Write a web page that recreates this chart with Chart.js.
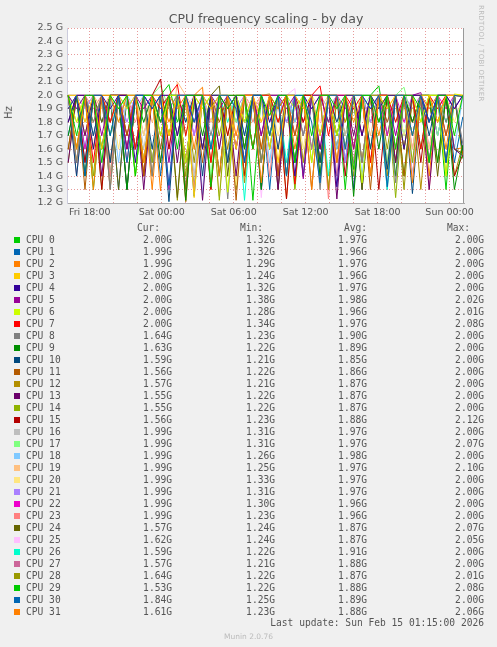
<!DOCTYPE html>
<html>
<head>
<meta charset="UTF-8">
<title>CPU frequency scaling - by day</title>
<script src="https://cdn.jsdelivr.net/npm/chart.js"></script>
<style>
  body { margin: 0; background: #f0f0f0; width: 497px; height: 647px; position: relative; overflow: hidden; font-family: "DejaVu Sans", sans-serif; }
  #chartBox { position: absolute; left: 0; top: 0; width: 497px; height: 225px; }
  #title { position: absolute; top: 11px; left: 0; width: 532px; text-align: center; font-size: 12.5px; color: #555; }
  #hz { position: absolute; left: 2px; top: 107px; font-size: 10px; color: #555; transform: rotate(-90deg); }
  #rrd { position: absolute; left: 477px; top: 5px; font-size: 7px; color: #bbb; writing-mode: vertical-rl; letter-spacing: 0.3px; }
  #legend { position: absolute; left: 0; top: 222px; width: 497px; font-family: "DejaVu Sans Mono", monospace; font-size: 9.6px; color: #555; }
  .row { position: relative; height: 12px; }
  .row span { position: absolute; top: 0; white-space: pre; }
  .sw { width: 6px; height: 6px; top: 3px !important; left: 14px; }
  #foot { position: absolute; top: 617px; right: 13px; font-family: "DejaVu Sans Mono", monospace; font-size: 9.6px; color: #555; }
  #munin { position: absolute; top: 632px; left: 0; width: 497px; text-align: center; font-size: 7.5px; color: #bbb; }
</style>
</head>
<body>
<div id="chartBox"><canvas id="cpuChart"></canvas></div>
<div id="title">CPU frequency scaling - by day</div>
<div id="hz">Hz</div>
<div id="rrd">RRDTOOL / TOBI OETIKER</div>
<div id="legend"></div>
<div id="foot">Last update: Sun Feb 15 01:15:00 2026</div>
<div id="munin">Munin 2.0.76</div>
<script>
// hours since Fri 00:00
const times = [16.2,16.9,17.6,18.3,19.0,19.7,20.4,21.1,21.8,22.5,23.2,23.9,24.6,25.3,26.0,26.7,27.4,28.1,28.8,29.5,30.2,30.9,31.6,32.3,33.0,33.7,34.4,35.1,35.8,36.5,37.2,37.9,38.6,39.3,40.0,40.7,41.4,42.1,42.8,43.5,44.2,44.9,45.6,46.3,47.0,47.7,48.4,49.1];
const tickLabels = { 18: 'Fri 18:00', 24: 'Sat 00:00', 30: 'Sat 06:00', 36: 'Sat 12:00', 42: 'Sat 18:00', 48: 'Sun 00:00' };
const yTicks = [1.2,1.3,1.4,1.5,1.6,1.7,1.8,1.9,2.0,2.1,2.2,2.3,2.4,2.5];

const names = ['CPU 0','CPU 1','CPU 2','CPU 3','CPU 4','CPU 5','CPU 6','CPU 7','CPU 8','CPU 9','CPU 10','CPU 11','CPU 12','CPU 13','CPU 14','CPU 15','CPU 16','CPU 17','CPU 18','CPU 19','CPU 20','CPU 21','CPU 22','CPU 23','CPU 24','CPU 25','CPU 26','CPU 27','CPU 28','CPU 29','CPU 30','CPU 31'];
const colors = ['#00cc00','#0066b3','#ff8000','#ffcc00','#330099','#990099','#ccff00','#ff0000','#808080','#008f00','#00487d','#b35a00','#b38f00','#6b006b','#8fb300','#b30000','#bebebe','#80ff80','#80c9ff','#ffc080','#ffe680','#aa80ff','#ee00cc','#ff8080','#666600','#ffbfff','#00ffcc','#cc6699','#999900','#00cc00','#0066b3','#ff8000'];
const cur = ['2.00G','1.99G','1.99G','2.00G','2.00G','2.00G','2.00G','2.00G','1.64G','1.63G','1.59G','1.56G','1.57G','1.55G','1.55G','1.56G','1.99G','1.99G','1.99G','1.99G','1.99G','1.99G','1.99G','1.99G','1.57G','1.62G','1.59G','1.57G','1.64G','1.53G','1.84G','1.61G'];
const mins = ['1.32G','1.32G','1.29G','1.24G','1.32G','1.38G','1.28G','1.34G','1.23G','1.22G','1.21G','1.22G','1.21G','1.22G','1.22G','1.23G','1.31G','1.31G','1.26G','1.25G','1.33G','1.31G','1.30G','1.23G','1.24G','1.24G','1.22G','1.21G','1.22G','1.22G','1.25G','1.23G'];
const avgs = ['1.97G','1.96G','1.97G','1.96G','1.97G','1.98G','1.96G','1.97G','1.90G','1.89G','1.85G','1.86G','1.87G','1.87G','1.87G','1.88G','1.97G','1.97G','1.98G','1.97G','1.97G','1.97G','1.96G','1.96G','1.87G','1.87G','1.91G','1.88G','1.87G','1.88G','1.89G','1.88G'];
const maxs = ['2.00G','2.00G','2.00G','2.00G','2.00G','2.02G','2.01G','2.08G','2.00G','2.00G','2.00G','2.00G','2.00G','2.00G','2.00G','2.12G','2.00G','2.07G','2.00G','2.10G','2.00G','2.00G','2.00G','2.00G','2.07G','2.05G','2.00G','2.00G','2.01G','2.08G','2.00G','2.06G'];

// values in GHz
const cpu0  = [2,1.7,2,2,1.5,2,1.9,2,1.4,2,2,1.8,2,1.6,2,2,2,1.32,2,1.9,2,2,1.6,2,1.85,2,2,1.5,2,1.7,2,2,1.9,2,1.45,2,2,1.8,2,1.6,2,2,1.9,1.5,2,2,1.7,2];
const cpu1  = [1.9,2,1.4,2,2,1.7,2,1.5,2,2,1.9,2,1.33,2,2,1.8,2,1.6,2,2,1.9,1.5,2,2,1.7,2,1.4,2,2,1.8,1.35,2,2,1.6,2,2,1.9,2,1.32,2,2,1.7,2,1.8,2,1.5,2,1.99];
const cpu2  = [2,1.6,2,1.3,2,2,1.8,2,2,1.5,2,1.29,2,1.9,2,1.6,2,2,1.4,2,1.7,2,2,1.35,2,1.9,2,1.6,2,1.3,2,2,1.5,2,1.8,2,1.4,2,2,1.6,2,1.35,2,1.9,2,1.6,2,1.99];
const cpu3  = [2,2,1.8,2,1.6,2,2,1.9,2,1.5,2,2,1.7,2,2,1.24,2,1.9,2,2,1.6,2,2,1.8,2,1.5,2,2,1.9,2,1.7,2,2,1.6,2,2,1.4,2,1.9,2,2,1.7,2,2,1.8,2,2,2];
const cpu4  = [1.8,2,2,1.6,2,1.9,2,2,1.5,2,1.9,2,2,1.7,2,2,1.6,2,2,1.9,2,1.5,2,2,1.8,2,2,1.4,2,1.9,2,2,1.32,2,2,1.7,2,1.9,2,2,1.6,2,2,1.8,2,2,1.9,2];
const cpu5  = [2,1.9,2,2,1.7,2,2,1.6,2,1.9,2,2,1.5,2,2,1.8,2,2,1.9,2,1.6,2,2,1.7,2,2,1.9,2,1.38,2,2,1.8,2,2,1.6,2,1.9,2,2,1.7,2,2,2.02,1.8,2,2,1.9,2];
const cpu6  = [2,1.8,2,1.6,2,2,1.9,2,1.4,2,2,1.7,2,2,1.5,2,1.9,2,2,1.28,2,1.8,2,2,1.6,2,2,1.9,2,1.5,2,2,1.7,2,2,1.35,2,1.9,2,2,1.6,2,1.8,2,2,1.4,2.01,2];
const cpu7  = [1.9,2,2,1.5,2,1.8,2,2,1.6,2,2,1.9,2,2.08,1.7,2,2,1.5,2,1.9,2,2,1.6,2,2,1.8,2,1.34,2,2,2.07,1.7,2,2,1.9,2,1.5,2,2,1.8,2,2,1.6,2,1.9,2,2,2];
const cpu8  = [2,1.5,2,1.8,2,1.3,2,2,1.6,2,1.4,2,1.9,2,1.5,2,2,1.7,2,1.23,2,1.8,2,1.5,2,2,1.4,2,1.7,2,1.3,2,2,1.6,2,1.5,2,1.9,2,1.35,2,1.7,2,1.5,2,1.8,2,1.64];
const cpu9  = [1.7,2,1.4,2,1.6,2,2,1.3,2,1.8,2,1.5,2,2,1.22,2,1.7,2,1.4,2,2,1.6,2,1.3,2,1.9,2,1.5,2,2,1.4,2,1.7,2,1.25,2,2,1.6,2,1.4,2,1.8,2,2,1.5,2,1.3,1.63];
const cpu10 = [2,1.4,2,1.7,2,1.5,2,1.3,2,2,1.6,2,1.21,2,1.8,2,1.4,2,2,1.5,2,1.7,2,1.3,2,1.6,2,2,1.4,2,1.5,2,1.8,2,1.3,2,1.6,2,1.45,2,2,1.27,2,1.7,2,1.5,2,1.59];
const cpu11 = [1.6,2,1.3,2,2,1.5,2,1.7,2,1.4,2,1.6,2,2,1.3,2,1.5,2,1.8,2,1.22,2,2,1.6,2,1.4,2,1.7,2,1.3,2,2,1.5,2,1.6,2,1.3,2,1.8,2,1.4,2,2,1.5,2,1.7,2,1.56];
const cpu12 = [2,1.5,2,1.8,2,1.3,2,2,1.6,2,1.4,2,1.7,2,1.21,2,2,1.5,2,1.6,2,1.35,2,2,1.7,2,1.4,2,1.5,2,2,1.3,2,1.8,2,1.5,2,2,1.4,2,1.6,2,1.3,2,2,1.5,2,1.57];
const cpu13 = [1.5,2,1.7,2,1.4,2,2,1.6,2,1.3,2,1.8,2,1.5,2,2,1.22,2,1.6,2,1.4,2,2,1.7,2,1.3,2,1.5,2,2,1.6,2,1.23,2,1.7,2,1.4,2,2,1.5,2,1.8,2,1.3,2,2,1.6,1.55];
const cpu14 = [2,1.6,2,1.4,2,1.8,2,1.3,2,2,1.5,2,1.7,2,1.4,2,1.9,2,1.22,2,2,1.6,2,1.5,2,1.8,2,1.3,2,2,1.5,2,1.7,2,1.4,2,1.6,2,2,1.24,2,1.5,2,1.8,2,1.4,2,1.55];
const cpu15 = [1.8,2,1.5,2,1.3,2,2,1.7,2,1.4,2,2.12,1.6,2,1.5,2,2,1.3,2,1.7,2,1.4,2,2,1.6,2,1.23,2,1.8,2,1.5,2,2,1.4,2,1.7,2,1.3,2,2,1.6,2,1.5,2,1.8,2,1.4,1.56];
const cpu16 = [2,2,1.8,2,1.5,2,2,1.9,2,1.6,2,2,1.7,2,2,1.4,2,1.9,2,2,1.6,2,2,1.31,2,1.8,2,2,1.5,2,2,1.9,2,1.7,2,2,1.6,2,2,1.8,2,1.5,2,2,1.9,2,2,1.99];
const cpu17 = [2,1.9,2,2,1.6,2,1.8,2,2,1.5,2,2.07,1.9,2,1.7,2,2,1.4,2,2,1.8,2,1.6,2,2,1.9,2,1.31,2,2,1.7,2,2,1.6,2,1.9,2,2,1.5,2,2.06,1.8,2,2,1.7,2,2,1.99];
const cpu18 = [1.9,2,2,1.7,2,2,1.5,2,1.9,2,2,1.6,2,2,1.8,2,1.26,2,2,1.9,2,1.7,2,2,1.5,2,2,1.8,2,1.9,2,2,1.6,2,2,1.4,2,2,1.8,2,2,1.7,2,1.9,2,2,1.6,1.99];
const cpu19 = [2,2,1.7,2,1.9,2,2,1.5,2,2,1.8,2,1.6,2.1,2,1.9,2,2,1.25,2,1.7,2,2,1.8,2,1.6,2,2,1.9,2,1.5,2,2,1.8,2,2,1.7,2,1.9,2,2,1.6,2,2,1.8,2,2,1.99];
const cpu20 = [2,1.8,2,2,1.9,2,1.6,2,2,1.7,2,2,1.9,2,1.5,2,2,1.8,2,2,1.33,2,1.9,2,2,1.7,2,2,1.6,2,1.9,2,2,1.8,2,1.5,2,2,1.9,2,1.7,2,2,1.6,2,2,1.8,1.99];
const cpu21 = [2,2,1.9,2,1.6,2,2,1.8,2,2,1.5,2,1.9,2,2,1.7,2,2,1.6,2,1.9,2,2,1.31,2,2,1.8,2,1.7,2,2,1.9,2,1.5,2,2,1.8,2,2,1.6,2,1.9,2,2,1.7,2,2,1.99];
const cpu22 = [1.9,2,1.6,2,2,1.8,2,1.5,2,2,1.9,2,1.3,2,2,1.7,2,1.8,2,2,1.6,2,1.9,2,2,1.4,2,2,1.8,2,1.6,2,2,1.9,2,1.5,2,2,1.7,2,1.8,2,2,1.6,2,1.9,2,1.99];
const cpu23 = [2,1.6,2,1.9,2,1.4,2,2,1.8,2,1.5,2,2,1.7,2,1.3,2,1.9,2,2,1.6,2,1.8,2,1.4,2,2,1.7,2,1.9,2,1.23,2,2,1.6,2,1.8,2,1.5,2,2,1.9,2,1.3,2,1.7,2,1.99];
const cpu24 = [1.6,2,1.4,2,1.8,2,1.3,2,2,1.5,2,1.7,2,1.24,2,2,1.6,2,2.07,1.4,2,1.8,2,1.5,2,1.3,2,2,1.7,2,1.4,2,1.6,2,2,1.3,2,1.8,2,1.5,2,1.7,2,2,1.4,2,1.6,1.57];
const cpu25 = [2,1.5,2,1.7,2,1.3,2,1.8,2,2,1.4,2,1.6,2,1.9,2,1.3,2,2,1.5,2,1.7,2,1.24,2,1.6,2,2.05,1.4,2,1.8,2,1.5,2,1.3,2,2,1.6,2,1.7,2,1.4,2,1.9,2,1.5,2,1.62];
const cpu26 = [1.8,2,1.6,2,2,1.4,2,1.9,2,1.5,2,2,1.7,2,1.3,2,2,1.6,2,1.8,2,1.22,2,2,1.7,2,1.5,2,1.9,2,2,1.4,2,1.6,2,2,1.8,2,1.3,2,1.7,2,2,1.5,2,1.8,2,1.59];
const cpu27 = [2,1.4,2,1.6,2,1.8,2,1.3,2,1.7,2,1.5,2,2,1.21,2,1.6,2,1.4,2,1.8,2,2,1.5,2,1.3,2,1.7,2,1.6,2,2,1.4,2,1.5,2,1.8,2,1.3,2,2,1.6,2,1.5,2,1.7,2,1.57];
const cpu28 = [1.5,2,1.7,2,1.3,2,2,1.6,2,1.4,2,1.8,2,1.22,2,1.5,2,2,1.7,2,1.3,2,1.6,2,2.01,1.4,2,1.8,2,1.5,2,1.3,2,1.7,2,2,1.5,2,1.6,2,1.3,2,1.8,2,1.5,2,1.4,1.64];
const cpu29 = [2,1.6,2,1.3,2,1.7,2,2,1.4,2,1.5,2,2.08,1.8,2,1.3,2,1.6,2,1.5,2,2,1.22,2,1.7,2,1.4,2,2,1.6,2,1.8,2,1.3,2,1.5,2,2.07,1.7,2,1.4,2,1.6,2,2,1.3,2,1.53];
const cpu30 = [1.7,2,1.5,2,1.8,2,1.3,2,1.6,2,2,1.4,2,1.7,2,1.25,2,1.9,2,1.5,2,1.6,2,2,1.3,2,1.8,2,1.4,2,1.7,2,2,1.5,2,1.3,2,1.8,2,1.6,2,1.4,2,2,1.7,2,1.5,1.84];
const cpu31 = [2,1.5,2,1.7,2,1.4,2,2,1.6,2,1.3,2,1.8,2,1.5,2,2.06,1.3,2,1.7,2,1.4,2,1.6,2,2,1.23,2,1.8,2,1.5,2,1.6,2,2,1.3,2,1.7,2,1.5,2,1.8,2,1.4,2,2,1.6,1.61];
const series = [cpu0,cpu1,cpu2,cpu3,cpu4,cpu5,cpu6,cpu7,cpu8,cpu9,cpu10,cpu11,cpu12,cpu13,cpu14,cpu15,cpu16,cpu17,cpu18,cpu19,cpu20,cpu21,cpu22,cpu23,cpu24,cpu25,cpu26,cpu27,cpu28,cpu29,cpu30,cpu31];

// legend table
const legend = document.getElementById('legend');
let html = '<div class="row"><span style="right:337px">Cur:</span><span style="right:234px">Min:</span><span style="right:130px">Avg:</span><span style="right:27px">Max:</span></div>';
names.forEach((n, i) => {
    html += '<div class="row"><span class="sw" style="background:' + colors[i] + '"></span>' +
        '<span style="left:26px">' + n + '</span>' +
        '<span style="right:325px">' + cur[i] + '</span>' +
        '<span style="right:222px">' + mins[i] + '</span>' +
        '<span style="right:130px">' + avgs[i] + '</span>' +
        '<span style="right:13px">' + maxs[i] + '</span></div>';
});
legend.innerHTML = html;

// white plot area + "now" marker at the right edge
const plotBg = {
    id: 'plotBg',
    beforeDraw(chart) {
        const a = chart.chartArea, ctx = chart.ctx;
        ctx.save();
        ctx.fillStyle = '#ffffff';
        ctx.fillRect(a.left, a.top, a.right - a.left, a.bottom - a.top);
        ctx.restore();
    },
    afterDraw(chart) {
        const a = chart.chartArea, ctx = chart.ctx;
        ctx.save();
        ctx.strokeStyle = '#999';
        ctx.beginPath();
        ctx.moveTo(a.right - 0.5, a.top);
        ctx.lineTo(a.right - 0.5, a.bottom);
        ctx.stroke();
        ctx.restore();
    }
};

const grid = { color: 'rgba(225,130,130,0.8)', lineWidth: 1, drawTicks: false };

new Chart(document.getElementById('cpuChart'), {
    type: 'line',
    data: {
        datasets: series.map((s, i) => ({
            label: names[i],
            data: s.map((v, j) => ({ x: times[j], y: v })),
            borderColor: colors[i],
            borderWidth: 1,
            pointRadius: 0,
            tension: 0,
            fill: false
        }))
    },
    options: {
        responsive: true,
        maintainAspectRatio: false,
        animation: false,
        layout: { padding: { top: 28, right: 33, left: 0, bottom: 0 } },
        plugins: { legend: { display: false }, tooltip: { enabled: false } },
        scales: {
            x: {
                type: 'linear',
                min: 16.1,
                max: 49.2,
                grid: grid,
                border: { color: '#aaa', dash: [1, 2] },
                afterFit: a => { a.height = 22; },
                afterBuildTicks: a => {
                    a.ticks = [18, 20, 22, 24, 26, 28, 30, 32, 34, 36, 38, 40, 42, 44, 46, 48].map(v => ({ value: v }));
                },
                ticks: {
                    autoSkip: false,
                    maxRotation: 0,
                    padding: 4,
                    color: '#555',
                    font: { family: 'DejaVu Sans', size: 9.5 },
                    callback: v => tickLabels[v] || ''
                }
            },
            y: {
                min: 1.2,
                max: 2.5,
                grid: grid,
                border: { color: '#ccd', dash: [1, 2] },
                afterFit: a => { a.width = 67; },
                afterBuildTicks: a => {
                    a.ticks = yTicks.map(v => ({ value: v }));
                },
                ticks: {
                    autoSkip: false,
                    padding: 4,
                    color: '#555',
                    font: { family: 'DejaVu Sans', size: 9.5 },
                    callback: v => v.toFixed(1) + ' G'
                }
            }
        }
    },
    plugins: [plotBg]
});
</script>
</body>
</html>
